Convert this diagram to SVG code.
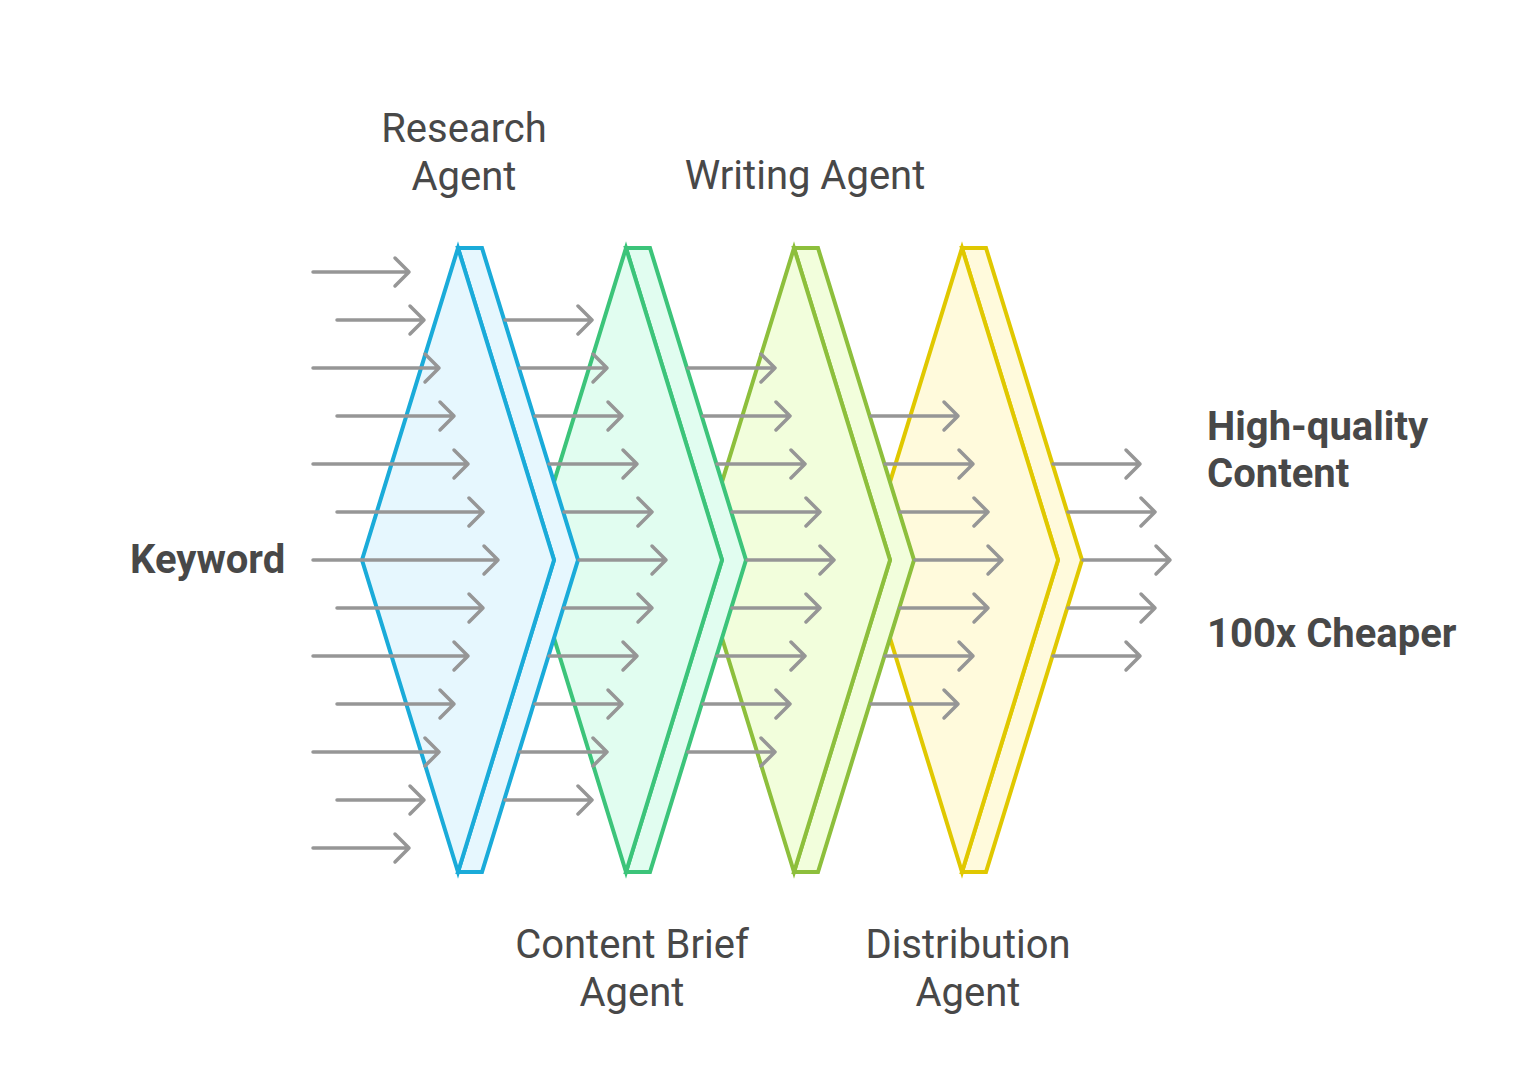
<svg xmlns="http://www.w3.org/2000/svg" width="1516" height="1091" viewBox="0 0 1516 1091">
<defs>
<style>
.t{font-family:Roboto,"Liberation Sans",sans-serif;font-size:40px;fill:#484848}
.b{font-family:Roboto,"Liberation Sans",sans-serif;font-size:40px;font-weight:bold;fill:#484848}
.c1{fill:#E6F7FE;stroke:#1AABD9;stroke-width:4;stroke-linejoin:miter}
.c2{fill:#E1FDF0;stroke:#3CC47A;stroke-width:4;stroke-linejoin:miter}
.c3{fill:#F2FEDC;stroke:#8DBF3C;stroke-width:4;stroke-linejoin:miter}
.c4{fill:#FFFADC;stroke:#E0C800;stroke-width:4;stroke-linejoin:miter}
.a{fill:none;stroke:#969696;stroke-width:3.5;stroke-linecap:round;stroke-linejoin:round}
</style>
<g id="chev">
<path d="M458,248 L482,248 L578,560 L482,872 L458,872 L554,560 Z"/>
<path d="M458,248 L554,560 L458,872 L362,560 Z"/>
</g>
</defs>
<rect width="1516" height="1091" fill="#ffffff"/>
<g id="distribution-agent">
<use href="#chev" class="c4" x="504"/>
<text class="t" text-anchor="middle" x="968" y="958">Distribution</text>
<text class="t" text-anchor="middle" x="968" y="1006">Agent</text>
</g>
<g id="writing-agent">
<use href="#chev" class="c3" x="336"/>
<text class="t" text-anchor="middle" x="805" y="189">Writing Agent</text>
</g>
<g id="content-brief-agent">
<use href="#chev" class="c2" x="168"/>
<text class="t" text-anchor="middle" x="632" y="958">Content Brief</text>
<text class="t" text-anchor="middle" x="632" y="1006">Agent</text>
</g>
<g id="research-agent">
<use href="#chev" class="c1"/>
<text class="t" text-anchor="middle" x="464" y="142">Research</text>
<text class="t" text-anchor="middle" x="464" y="190">Agent</text>
</g>
<g id="keyword">
<text class="b" x="130" y="573">Keyword</text>
</g>
<g id="output">
<text class="b" x="1207" y="440">High-quality</text>
<text class="b" x="1207" y="487">Content</text>
<text class="b" x="1207" y="647">100x Cheaper</text>
</g>
<g id="connectors" class="a">
<path d="M313,272H409M395,258L409,272L395,286"/>
<path d="M337,320H424M410,306L424,320L410,334"/>
<path d="M313,368H439M425,354L439,368L425,382"/>
<path d="M337,416H454M440,402L454,416L440,430"/>
<path d="M313,464H468M454,450L468,464L454,478"/>
<path d="M337,512H483M469,498L483,512L469,526"/>
<path d="M313,560H498M484,546L498,560L484,574"/>
<path d="M337,608H483M469,594L483,608L469,622"/>
<path d="M313,656H468M454,642L468,656L454,670"/>
<path d="M337,704H454M440,690L454,704L440,718"/>
<path d="M313,752H439M425,738L439,752L425,766"/>
<path d="M337,800H424M410,786L424,800L410,814"/>
<path d="M313,848H409M395,834L409,848L395,862"/>
<path d="M505,320H592M578,306L592,320L578,334"/>
<path d="M520,368H607M593,354L607,368L593,382"/>
<path d="M535,416H622M608,402L622,416L608,430"/>
<path d="M549,464H637M623,450L637,464L623,478"/>
<path d="M564,512H652M638,498L652,512L638,526"/>
<path d="M579,560H666M652,546L666,560L652,574"/>
<path d="M564,608H652M638,594L652,608L638,622"/>
<path d="M549,656H637M623,642L637,656L623,670"/>
<path d="M535,704H622M608,690L622,704L608,718"/>
<path d="M520,752H607M593,738L607,752L593,766"/>
<path d="M505,800H592M578,786L592,800L578,814"/>
<path d="M688,368H775M761,354L775,368L761,382"/>
<path d="M703,416H790M776,402L790,416L776,430"/>
<path d="M717,464H805M791,450L805,464L791,478"/>
<path d="M732,512H820M806,498L820,512L806,526"/>
<path d="M747,560H834M820,546L834,560L820,574"/>
<path d="M732,608H820M806,594L820,608L806,622"/>
<path d="M717,656H805M791,642L805,656L791,670"/>
<path d="M703,704H790M776,690L790,704L776,718"/>
<path d="M688,752H775M761,738L775,752L761,766"/>
<path d="M871,416H958M944,402L958,416L944,430"/>
<path d="M885,464H973M959,450L973,464L959,478"/>
<path d="M900,512H988M974,498L988,512L974,526"/>
<path d="M915,560H1002M988,546L1002,560L988,574"/>
<path d="M900,608H988M974,594L988,608L974,622"/>
<path d="M885,656H973M959,642L973,656L959,670"/>
<path d="M871,704H958M944,690L958,704L944,718"/>
<path d="M1053,464H1140M1126,450L1140,464L1126,478"/>
<path d="M1068,512H1155M1141,498L1155,512L1141,526"/>
<path d="M1083,560H1170M1156,546L1170,560L1156,574"/>
<path d="M1068,608H1155M1141,594L1155,608L1141,622"/>
<path d="M1053,656H1140M1126,642L1140,656L1126,670"/>
</g>
</svg>
